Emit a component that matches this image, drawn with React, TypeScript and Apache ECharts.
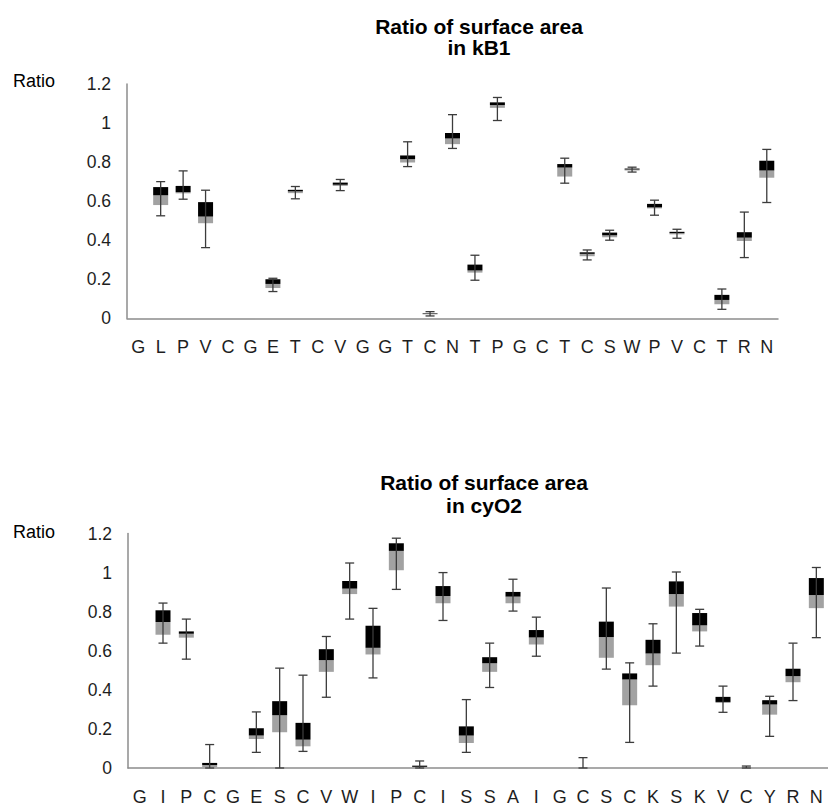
import React, { useEffect, useRef } from "react";
import * as echarts from "echarts";

const topCategories = ["G","L","P","V","C","G","E","T","C","V","G","G","T","C","N","T","P","G","C","T","C","S","W","P","V","C","T","R","N"];
const topMin = [null,0.525,0.61,0.362,null,null,0.137,0.612,null,0.654,null,null,0.777,0.012,0.87,0.195,1.013,null,null,0.692,0.299,0.40,0.749,0.528,0.41,null,0.046,0.311,0.593];
const topQ1 = [null,0.58,0.64,0.487,null,null,0.155,0.641,null,0.678,null,null,0.798,0.02,0.892,0.234,1.078,null,null,0.726,0.318,0.415,0.757,0.563,0.43,null,0.072,0.396,0.72];
const topMed = [null,0.63,0.646,0.521,null,null,0.176,0.65,null,0.684,null,null,0.815,0.022,0.921,0.245,1.092,null,null,0.772,0.33,0.425,0.762,0.568,0.436,null,0.094,0.413,0.757];
const topQ3 = [null,0.672,0.678,0.595,null,null,0.20,0.658,null,0.695,null,null,0.834,0.025,0.949,0.275,1.106,null,null,0.79,0.338,0.439,0.767,0.586,0.443,null,0.12,0.441,0.807];
const topMax = [null,0.70,0.755,0.656,null,null,0.205,0.675,null,0.711,null,null,0.904,0.034,1.043,0.323,1.131,null,null,0.82,0.35,0.451,0.774,0.605,0.456,null,0.15,0.544,0.865];

const botCategories = ["G","I","P","C","G","E","S","C","V","W","I","P","C","I","S","S","A","I","G","C","S","C","K","S","K","V","C","Y","R","N"];
const botMin = [null,0.639,0.557,0,null,0.08,0,0.085,0.362,0.762,0.461,0.914,0,0.755,0.08,0.412,0.803,0.572,null,0,0.506,0.131,0.419,0.588,0.624,0.285,0,0.162,0.345,0.667];
const botQ1 = [null,0.682,0.667,0.005,null,0.149,0.183,0.111,0.492,0.89,0.581,1.012,0.002,0.843,0.128,0.492,0.843,0.632,null,0,0.564,0.321,0.526,0.826,0.699,0.333,0,0.273,0.439,0.818];
const botMed = [null,0.747,0.687,0.015,null,0.166,0.27,0.145,0.552,0.918,0.615,1.111,0.006,0.88,0.166,0.536,0.877,0.668,null,0,0.67,0.453,0.586,0.89,0.73,0.338,0,0.325,0.47,0.885];
const botQ3 = [null,0.807,0.699,0.026,null,0.203,0.342,0.231,0.608,0.957,0.728,1.15,0.012,0.931,0.213,0.567,0.901,0.706,null,0,0.749,0.484,0.656,0.955,0.793,0.364,0,0.347,0.508,0.972];
const botMax = [null,0.844,0.762,0.12,null,0.287,0.511,0.475,0.673,1.049,0.817,1.176,0.036,1.0,0.35,0.639,0.966,0.772,null,0.053,0.921,0.538,0.738,1.003,0.812,0.419,0.01,0.367,0.639,1.026];

const titleLine1 = "Ratio of surface area";
const topTitle2 = "in kB1";
const botTitle2 = "in cyO2";
const yName = "Ratio";

const FONT = "'Liberation Sans', Arial, sans-serif";

function build(mn: any[], q1: any[], md: any[], q3: any[], mx: any[]) {
  const out: number[][] = [];
  for (let i = 0; i < mn.length; i++) {
    if (mn[i] === null) continue;
    out.push([i, mn[i], q1[i], md[i], q3[i], mx[i]]);
  }
  return out;
}

const renderBox = (params: any, api: any) => {
  const idx = api.value(0);
  const pMin = api.coord([idx, api.value(1)]);
  const pQ1 = api.coord([idx, api.value(2)]);
  const pMed = api.coord([idx, api.value(3)]);
  const pQ3 = api.coord([idx, api.value(4)]);
  const pMax = api.coord([idx, api.value(5)]);
  const x = pMin[0];
  const bw = 15;
  const cw = 9;
  const lineStyle = { stroke: "#3c3c3c", lineWidth: 1.3 };
  const children: any[] = [];
  if (pQ1[1] - pMed[1] > 0) {
    children.push({ type: "rect", shape: { x: x - bw / 2, y: pMed[1], width: bw, height: pQ1[1] - pMed[1] }, style: { fill: "#a2a2a2" } });
  }
  if (pMed[1] - pQ3[1] > 0) {
    children.push({ type: "rect", shape: { x: x - bw / 2, y: pQ3[1], width: bw, height: pMed[1] - pQ3[1] }, style: { fill: "#000000" } });
  }
  children.push({ type: "line", shape: { x1: x, y1: pMin[1], x2: x, y2: pMax[1] }, style: lineStyle });
  children.push({ type: "line", shape: { x1: x - cw / 2, y1: pMax[1], x2: x + cw / 2, y2: pMax[1] }, style: lineStyle });
  children.push({ type: "line", shape: { x1: x - cw / 2, y1: pMin[1], x2: x + cw / 2, y2: pMin[1] }, style: lineStyle });
  return { type: "group", children };
};

export default function App() {
  const ref = useRef<HTMLDivElement>(null);
  useEffect(() => {
    if (!ref.current) return;
    const chart = echarts.init(ref.current, null, { renderer: "svg" });
    const xAxisCommon = {
      type: "category" as const,
      boundaryGap: true,
      axisLine: { lineStyle: { color: "#8c8c8c", width: 1.5 } },
      axisTick: { show: false },
      axisLabel: { color: "#1e1e1e", fontSize: 18, fontFamily: FONT, margin: 20, interval: 0 },
      splitLine: { show: false },
    };
    const yAxisCommon = {
      type: "value" as const,
      min: 0,
      max: 1.2,
      interval: 0.2,
      axisLine: { show: true, lineStyle: { color: "#8c8c8c", width: 1.5 } },
      axisTick: { show: false },
      splitLine: { show: false },
      axisLabel: {
        color: "#1e1e1e",
        fontSize: 17.5,
        fontFamily: FONT,
        margin: 16,
        formatter: (v: number) => String(Math.round(v * 10) / 10),
      },
    };
    const titleStyle = { fill: "#000", fontSize: 21, fontWeight: "bold", fontFamily: FONT, textAlign: "center", textVerticalAlign: "middle" };
    const nameStyle = { fill: "#000", fontSize: 18, fontFamily: FONT, textAlign: "left", textVerticalAlign: "middle" };
    chart.setOption({
      animation: false,
      backgroundColor: "#ffffff",
      grid: [
        { left: 127, top: 84, width: 651, height: 234.3 },
        { left: 128, top: 533.5, width: 703, height: 234.8 },
      ],
      xAxis: [
        { ...xAxisCommon, gridIndex: 0, data: topCategories },
        { ...xAxisCommon, gridIndex: 1, data: botCategories },
      ],
      yAxis: [
        { ...yAxisCommon, gridIndex: 0 },
        { ...yAxisCommon, gridIndex: 1 },
      ],
      graphic: [
        { type: "text", x: 479, y: 26, style: { ...titleStyle, text: titleLine1 } },
        { type: "text", x: 479, y: 47.5, style: { ...titleStyle, text: topTitle2 } },
        { type: "text", x: 484, y: 482.5, style: { ...titleStyle, text: titleLine1 } },
        { type: "text", x: 484, y: 505, style: { ...titleStyle, text: botTitle2 } },
        { type: "text", x: 13, y: 81, style: { ...nameStyle, text: yName } },
        { type: "text", x: 13, y: 532, style: { ...nameStyle, text: yName } },
      ],
      series: [
        {
          type: "custom",
          xAxisIndex: 0,
          yAxisIndex: 0,
          renderItem: renderBox,
          encode: { x: 0, y: [1, 2, 3, 4, 5] },
          data: build(topMin, topQ1, topMed, topQ3, topMax),
          clip: false,
        },
        {
          type: "custom",
          xAxisIndex: 1,
          yAxisIndex: 1,
          renderItem: renderBox,
          encode: { x: 0, y: [1, 2, 3, 4, 5] },
          data: build(botMin, botQ1, botMed, botQ3, botMax),
          clip: false,
        },
      ],
    });
    return () => chart.dispose();
  }, []);
  return (
    <div
      ref={ref}
      style={{ position: "absolute", left: 0, top: 0, width: 828, height: 806, background: "#fff" }}
    />
  );
}
